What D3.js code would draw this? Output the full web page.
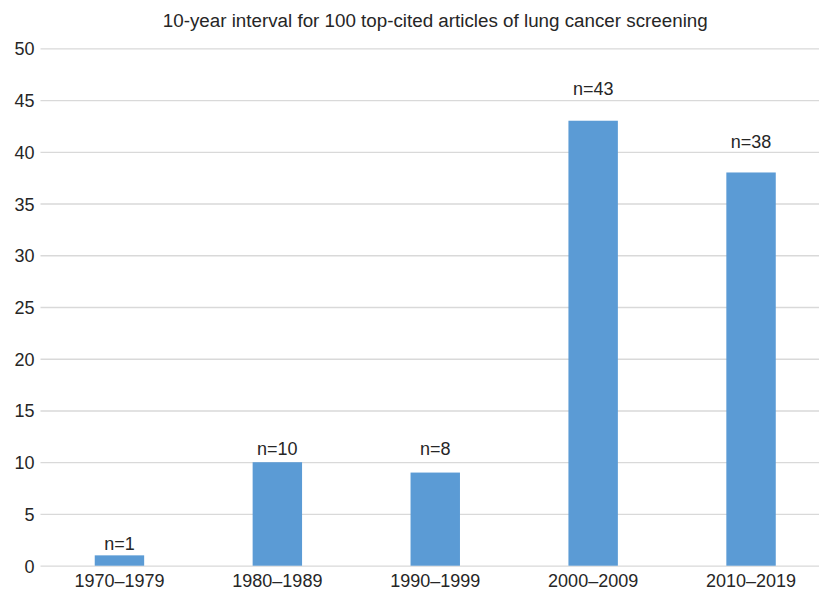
<!DOCTYPE html>
<html>
  <head>
    <title>10-year interval bar chart</title>
    <script src="https://d3js.org/d3.v7.min.js"></script>
    <style>
      body { margin: 0; background: #fff; overflow: hidden; }
      svg { display: block; }
      text { font-family: "Liberation Sans", Arial, sans-serif; fill: #262626; }
    </style>
  </head>
  <body>
    <svg></svg>
    <script>
      // data
      var periods = ['1970\u20131979', '1980\u20131989', '1990\u20131999', '2000\u20132009', '2010\u20132019'];
      var counts = [1, 10, 9, 43, 38];
      var labels = ['n=1', 'n=10', 'n=8', 'n=43', 'n=38'];
      var labelLevel = [1.55, 10.7, 10.7, 45.5, 40.4];
      var yTicks = [0, 5, 10, 15, 20, 25, 30, 35, 40, 45, 50];
      var title = '10-year interval for 100 top-cited articles of lung cancer screening';

      const svg = d3.select('svg')
        .attr('width', 819)
        .attr('height', 594);

      var width = +svg.attr('width');
      var height = +svg.attr('height');

      var margin = { top: 48.3, right: -11, bottom: 28.3, left: 40.5 };
      var innerWidth = width - margin.left - margin.right;
      var innerHeight = height - margin.top - margin.bottom;

      const xScale = d3.scaleBand()
        .domain(periods)
        .range([0, innerWidth]);

      const yScale = d3.scaleLinear()
        .domain([0, 50])
        .range([innerHeight, 0]);

      const g = svg.append('g')
        .attr('transform', `translate(${margin.left},${margin.top})`);

      // gridlines + tick labels
      const yAxis = d3.axisLeft(yScale)
        .tickValues(yTicks)
        .tickSize(-(width - margin.left))
        .tickPadding(6);

      const yAxisG = g.append('g').call(yAxis);
      yAxisG.select('.domain').remove();
      yAxisG.selectAll('line').attr('stroke', '#d9d9d9').attr('stroke-width', 1.3);
      yAxisG.selectAll('text')
        .attr('font-size', 18)
        .attr('fill', '#262626')
        .attr('dy', '0.36em');

      const xAxis = d3.axisBottom(xScale).tickSize(0).tickPadding(9);
      const xAxisG = g.append('g')
        .attr('transform', `translate(0,${innerHeight})`)
        .call(xAxis);
      xAxisG.select('.domain').remove();
      xAxisG.selectAll('text')
        .attr('font-size', 18)
        .attr('fill', '#262626');

      var barW = xScale.bandwidth() * 0.313;

      g.selectAll('rect.bar').data(counts)
        .enter().append('rect')
          .attr('class', 'bar')
          .attr('x', (d, i) => xScale(periods[i]) + xScale.bandwidth() / 2 - barW / 2)
          .attr('y', d => yScale(d))
          .attr('width', barW)
          .attr('height', d => yScale(0) - yScale(d))
          .attr('fill', '#5b9bd5');

      g.selectAll('text.lbl').data(labels)
        .enter().append('text')
          .attr('class', 'lbl')
          .attr('x', (d, i) => xScale(periods[i]) + xScale.bandwidth() / 2)
          .attr('y', (d, i) => yScale(labelLevel[i]))
          .attr('text-anchor', 'middle')
          .attr('font-size', 18)
          .text(d => d);

      svg.append('text')
        .attr('x', margin.left + innerWidth / 2)
        .attr('y', 27)
        .attr('text-anchor', 'middle')
        .attr('font-size', 18.8)
        .text(title);
    </script>
  </body>
</html>
